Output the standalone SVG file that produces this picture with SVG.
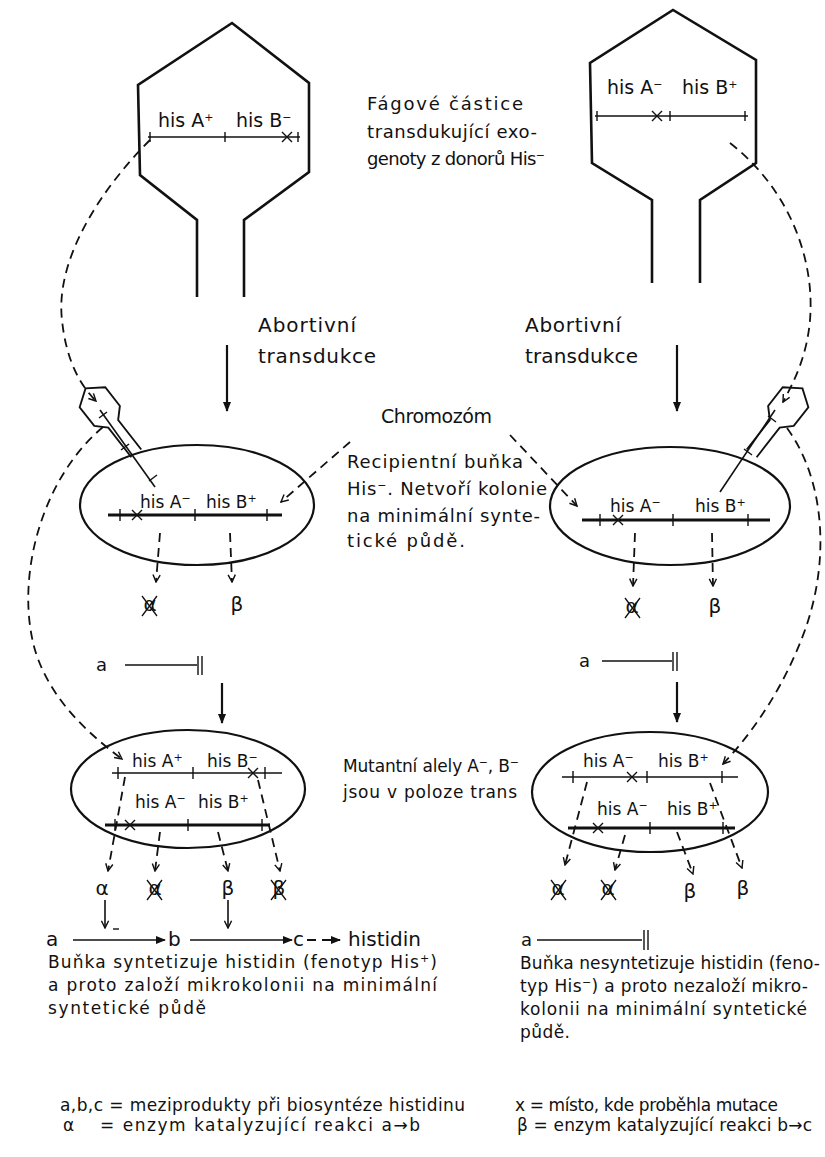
<svg xmlns="http://www.w3.org/2000/svg" width="825" height="1157" viewBox="0 0 825 1157">
<defs>
<marker id="ah" viewBox="0 0 10 10" refX="9" refY="5" markerWidth="10" markerHeight="10" markerUnits="userSpaceOnUse" orient="auto">
<path d="M0,1 L10,5 L0,9 z" fill="#111"/>
</marker>
<marker id="av" viewBox="0 0 10 10" refX="9" refY="5" markerWidth="9" markerHeight="9" markerUnits="userSpaceOnUse" orient="auto">
<path d="M1,1 L9,5 L1,9" fill="none" stroke="#111" stroke-width="1.6"/>
</marker>
</defs>
<style>
text{font-family:"DejaVu Sans","Liberation Sans",sans-serif;font-size:17px;fill:#111}
.lab{font-size:17px}
.plab{font-size:19px}
.big{font-size:18px}
.hd{font-size:20px}
.sup{font-size:11px}
.ph{fill:none;stroke:#111;stroke-width:2.6;stroke-linejoin:miter}
.sph{fill:none;stroke:#111;stroke-width:1.5}
.cell{fill:none;stroke:#111;stroke-width:2.2}
.dna{stroke:#111;stroke-width:1.6;fill:none}
.chr{stroke:#111;stroke-width:3.2;fill:none}
.tk{stroke:#111;stroke-width:1.4}
.dash{fill:none;stroke:#111;stroke-width:1.8;stroke-dasharray:9,6}
.sol{fill:none;stroke:#111;stroke-width:2.2}
.thin{fill:none;stroke:#111;stroke-width:1.6}
.cross{stroke:#111;stroke-width:1.3}
.sym{font-size:20px;text-anchor:middle}
.pw{font-size:20px}
</style>
<rect width="825" height="1157" fill="#fff"/>

<g id="phage-left">
<path class="ph" d="M197,297 L197,220 L140,175 L138,85 L232,23 L309,83 L309,172 L244,220 L244,297"/>
<line class="dna" x1="148" y1="137" x2="300" y2="137"/>
<line class="tk" x1="150" y1="132" x2="150" y2="142"/>
<line class="tk" x1="225" y1="132" x2="225" y2="142"/>
<line class="tk" x1="298" y1="132" x2="298" y2="142"/>
<path class="tk" d="M282,132 L292,142 M292,132 L282,142"/>
<text class="plab" x="158" y="127">his A<tspan class="sup" baseline-shift="super">+</tspan></text>
<text class="plab" x="236" y="127">his B<tspan class="sup" baseline-shift="super">−</tspan></text>
</g>

<g id="phage-right">
<path class="ph" d="M652,283 L652,200 L592,163 L590,63 L673,10 L756,60 L756,163 L700,200 L700,283"/>
<line class="dna" x1="595" y1="116" x2="748" y2="116"/>
<line class="tk" x1="597" y1="111" x2="597" y2="121"/>
<line class="tk" x1="670" y1="111" x2="670" y2="121"/>
<line class="tk" x1="745" y1="111" x2="745" y2="121"/>
<path class="tk" d="M652,111 L662,121 M662,111 L652,121"/>
<text class="plab" x="607" y="94">his A<tspan class="sup" baseline-shift="super">−</tspan></text>
<text class="plab" x="682" y="94">his B<tspan class="sup" baseline-shift="super">+</tspan></text>
</g>

<g id="phage-text">
<text class="big" x="367" y="110" textLength="156">Fágové  částice</text>
<text class="big" x="367" y="138" textLength="170">transdukující exo-</text>
<text class="big" x="367" y="165" textLength="178">genoty z donorů His<tspan class="sup" baseline-shift="super">−</tspan></text>
</g>

<g id="abort-left">
<line class="sol" x1="227" y1="345" x2="227" y2="411" marker-end="url(#ah)"/>
<text class="hd" x="258" y="332" textLength="98">Abortivní</text>
<text class="hd" x="258" y="363" textLength="118">transdukce</text>
</g>
<g id="abort-right">
<line class="sol" x1="677" y1="345" x2="677" y2="411" marker-end="url(#ah)"/>
<text class="hd" x="525" y="332" textLength="96">Abortivní</text>
<text class="hd" x="525" y="363" textLength="113">transdukce</text>
</g>

<text id="chromozom" class="plab" x="381" y="423" textLength="111">Chromozóm</text>

<g id="recipient-text">
<text class="big" x="347" y="468" textLength="176">Recipientní buňka</text>
<text class="big" x="347" y="495" textLength="200">His<tspan class="sup" baseline-shift="super">−</tspan>. Netvoří kolonie</text>
<text class="big" x="347" y="522" textLength="193">na minimální synte-</text>
<text class="big" x="347" y="547" textLength="118">tické půdě.</text>
</g>

<g id="small-phage-left">
<g transform="translate(104,412) rotate(-38) scale(1.25)">
<path class="sph" d="M-5,42 L-5,12 L-13,4 L-13,-15 L0,-24 L13,-15 L13,4 L5,12 L5,42"/>
</g>
<line class="thin" x1="100" y1="410" x2="155" y2="487"/>
<path class="tk" d="M99,418 L107,412 M121,450 L129,444 M149,481 L157,475"/>
</g>

<g id="small-phage-right">
<g transform="translate(784,412) rotate(38) scale(1.25)">
<path class="sph" d="M-5,42 L-5,12 L-13,4 L-13,-15 L0,-24 L13,-15 L13,4 L5,12 L5,42"/>
</g>
<line class="thin" x1="775" y1="410" x2="720" y2="492"/>
<path class="tk" d="M768,416 L776,422 M744,449 L752,455"/>
</g>

<g id="cell-top-left">
<ellipse class="cell" cx="197" cy="505" rx="117" ry="60"/>
<line class="chr" x1="108" y1="515" x2="282" y2="515"/>
<path class="tk" d="M120,509 L120,521 M195,509 L195,521 M267,509 L267,521"/>
<path class="tk" d="M132,510 L142,520 M142,510 L132,520"/>
<text class="lab" x="140" y="508">his A<tspan class="sup" baseline-shift="super">−</tspan></text>
<text class="lab" x="206" y="508">his B<tspan class="sup" baseline-shift="super">+</tspan></text>
<text class="sym" x="150" y="611">α</text>
<path class="cross" d="M142,596 L157,616 M157,596 L142,616"/>
<text class="sym" x="237" y="611">β</text>
</g>

<g id="cell-top-right">
<ellipse class="cell" cx="670" cy="506" rx="120" ry="59"/>
<line class="chr" x1="582" y1="520" x2="770" y2="520"/>
<path class="tk" d="M600,514 L600,526 M673,514 L673,526 M748,514 L748,526"/>
<path class="tk" d="M613,515 L623,525 M623,515 L613,525"/>
<text class="lab" x="610" y="512">his A<tspan class="sup" baseline-shift="super">−</tspan></text>
<text class="lab" x="695" y="512">his B<tspan class="sup" baseline-shift="super">+</tspan></text>
<text class="sym" x="632" y="613">α</text>
<path class="cross" d="M625,598 L640,618 M640,598 L625,618"/>
<text class="sym" x="715" y="613">β</text>
</g>

<g id="block-left">
<text class="big" x="96" y="671">a</text>
<line class="thin" x1="125" y1="665" x2="197" y2="665"/>
<path class="tk" d="M198,656 L198,675 M202,656 L202,675"/>
<line class="sol" x1="222" y1="683" x2="222" y2="723" marker-end="url(#ah)"/>
</g>
<g id="block-right">
<text class="big" x="579" y="667">a</text>
<line class="thin" x1="602" y1="661" x2="672" y2="661"/>
<path class="tk" d="M673,652 L673,671 M677,652 L677,671"/>
<line class="sol" x1="677" y1="682" x2="677" y2="722" marker-end="url(#ah)"/>
</g>

<g id="cell-bottom-left">
<ellipse class="cell" cx="188" cy="789" rx="117" ry="59"/>
<line class="dna" x1="112" y1="773" x2="282" y2="773"/>
<path class="tk" d="M118,767 L118,779 M193,767 L193,779 M265,767 L265,779"/>
<path class="tk" d="M248,768 L258,778 M258,768 L248,778"/>
<text class="lab" x="132" y="767">his A<tspan class="sup" baseline-shift="super">+</tspan></text>
<text class="lab" x="207" y="767">his B<tspan class="sup" baseline-shift="super">−</tspan></text>
<line class="chr" x1="105" y1="825" x2="270" y2="825"/>
<path class="tk" d="M115,819 L115,831 M188,819 L188,831 M262,819 L262,831"/>
<path class="tk" d="M125,820 L135,830 M135,820 L125,830"/>
<text class="lab" x="135" y="808">his A<tspan class="sup" baseline-shift="super">−</tspan></text>
<text class="lab" x="198" y="808">his B<tspan class="sup" baseline-shift="super">+</tspan></text>
<text class="sym" x="102" y="895">α</text>
<text class="sym" x="155" y="895">α</text>
<path class="cross" d="M147,880 L162,900 M162,880 L147,900"/>
<text class="sym" x="228" y="895">β</text>
<text class="sym" x="279" y="895">β</text>
<path class="cross" d="M271,880 L286,900 M286,880 L271,900"/>
</g>

<g id="cell-bottom-right">
<ellipse class="cell" cx="650" cy="792" rx="118" ry="60"/>
<line class="dna" x1="562" y1="777" x2="738" y2="777"/>
<path class="tk" d="M573,771 L573,783 M647,771 L647,783 M722,771 L722,783"/>
<path class="tk" d="M627,772 L637,782 M637,772 L627,782"/>
<text class="lab" x="583" y="767">his A<tspan class="sup" baseline-shift="super">−</tspan></text>
<text class="lab" x="658" y="767">his B<tspan class="sup" baseline-shift="super">+</tspan></text>
<line class="chr" x1="568" y1="828" x2="735" y2="828"/>
<path class="tk" d="M650,822 L650,834 M723,822 L723,834"/>
<path class="tk" d="M593,823 L603,833 M603,823 L593,833"/>
<text class="lab" x="597" y="815">his A<tspan class="sup" baseline-shift="super">−</tspan></text>
<text class="lab" x="667" y="815">his B<tspan class="sup" baseline-shift="super">+</tspan></text>
<text class="sym" x="558" y="895">α</text>
<path class="cross" d="M551,880 L566,900 M566,880 L551,900"/>
<text class="sym" x="608" y="895">α</text>
<path class="cross" d="M601,880 L616,900 M616,880 L601,900"/>
<text class="sym" x="690" y="898">β</text>
<text class="sym" x="743" y="895">β</text>
</g>

<g id="trans-text">
<text x="343" y="772" textLength="176">Mutantní alely A<tspan class="sup" baseline-shift="super">−</tspan>, B<tspan class="sup" baseline-shift="super">−</tspan></text>
<text x="343" y="798" textLength="174">jsou v poloze trans</text>
</g>

<g id="connectors">
<path class="dash" d="M150,140 C100,190 55,260 62,320 C66,360 80,385 96,401" marker-end="url(#av)"/>
<path class="dash" d="M730,143 C790,190 815,260 810,320 C807,355 795,380 783,402" marker-end="url(#av)"/>
<path class="dash" d="M103,427 C40,480 15,580 35,650 C50,700 90,735 122,759" marker-end="url(#av)"/>
<path class="dash" d="M787,428 C825,480 830,560 805,630 C785,685 755,730 723,764" marker-end="url(#av)"/>
<line class="dash" x1="350" y1="442" x2="281" y2="502" marker-end="url(#av)"/>
<line class="dash" x1="510" y1="435" x2="577" y2="506" marker-end="url(#av)"/>
<line class="dash" x1="160" y1="533" x2="156" y2="582" marker-end="url(#av)"/>
<line class="dash" x1="230" y1="533" x2="232" y2="582" marker-end="url(#av)"/>
<line class="dash" x1="635" y1="533" x2="633" y2="586" marker-end="url(#av)"/>
<line class="dash" x1="712" y1="533" x2="713" y2="586" marker-end="url(#av)"/>
<line class="dash" x1="125" y1="777" x2="108" y2="871" marker-end="url(#av)"/>
<line class="dash" x1="160" y1="832" x2="155" y2="871" marker-end="url(#av)"/>
<line class="dash" x1="218" y1="832" x2="228" y2="871" marker-end="url(#av)"/>
<line class="dash" x1="258" y1="780" x2="280" y2="871" marker-end="url(#av)"/>
<line class="dash" x1="587" y1="782" x2="565" y2="865" marker-end="url(#av)"/>
<line class="dash" x1="625" y1="835" x2="615" y2="870" marker-end="url(#av)"/>
<line class="dash" x1="677" y1="832" x2="693" y2="874" marker-end="url(#av)"/>
<line class="dash" x1="710" y1="783" x2="742" y2="868" marker-end="url(#av)"/>
</g>

<g id="pathway-left">
<line class="thin" x1="105" y1="900" x2="105" y2="928" marker-end="url(#av)"/>
<line class="tk" x1="113" y1="929" x2="119" y2="929"/>
<line class="thin" x1="228" y1="900" x2="228" y2="928" marker-end="url(#av)"/>
<text class="pw" x="46" y="946">a</text>
<line class="thin" x1="73" y1="940" x2="165" y2="940" marker-end="url(#ah)"/>
<text class="pw" x="168" y="946">b</text>
<line class="thin" x1="190" y1="940" x2="292" y2="940" marker-end="url(#ah)"/>
<text class="pw" x="293" y="946">c</text>
<line class="dash" x1="307" y1="940" x2="340" y2="940" stroke-dasharray="6,4" marker-end="url(#ah)"/>
<text class="pw" x="348" y="946">histidin</text>
<text x="48" y="968" textLength="389">Buňka  syntetizuje histidin (fenotyp His<tspan class="sup" baseline-shift="super">+</tspan>)</text>
<text x="48" y="991" textLength="389">a proto založí mikrokolonii na minimální</text>
<text x="48" y="1014" textLength="158">syntetické půdě</text>
</g>

<g id="pathway-right">
<text class="big" x="521" y="946">a</text>
<line class="thin" x1="537" y1="940" x2="642" y2="940"/>
<path class="tk" d="M644,930 L644,950 M648,930 L648,950"/>
<text x="520" y="969" textLength="300">Buňka  nesyntetizuje histidin (feno-</text>
<text x="520" y="992" textLength="288">typ His<tspan class="sup" baseline-shift="super">−</tspan>) a proto nezaloží mikro-</text>
<text x="520" y="1015" textLength="287">kolonii  na minimální syntetické</text>
<text x="520" y="1038" textLength="50">půdě.</text>
</g>

<g id="legend">
<text x="60" y="1111" textLength="405">a,b,c = meziprodukty  při biosyntéze histidinu</text>
<text x="63" y="1131">α</text>
<text x="100" y="1131" textLength="320">= enzym katalyzující reakci a→b</text>
<text x="515" y="1111" textLength="263">x = místo, kde proběhla mutace</text>
<text x="517" y="1131" textLength="295">β = enzym katalyzující reakci b→c</text>
</g>
</svg>
